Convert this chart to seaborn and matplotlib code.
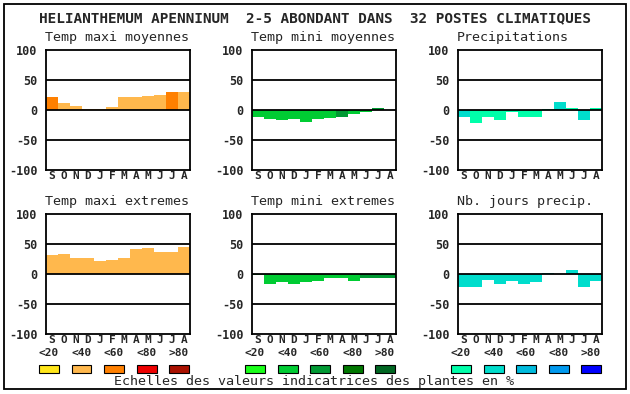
import matplotlib
matplotlib.use('Agg')
import matplotlib.pyplot as plt
from matplotlib.patches import Rectangle
import seaborn as sns

months = ['S', 'O', 'N', 'D', 'J', 'F', 'M', 'A', 'M', 'J', 'J', 'A']
pos = list(range(12))

titles = ['Temp maxi moyennes', 'Temp mini moyennes', 'Precipitations',
          'Temp maxi extremes', 'Temp mini extremes', 'Nb. jours precip.']

tmax_moy = [22, 12, 7, 2, 2, 5, 22, 22, 24, 25, 30, 30]
tmin_moy = [-12, -15, -17, -15, -20, -15, -14, -12, -7, -4, 4, 0]
precip = [-11, -22, -11, -17, -3, -11, -11, 2, 14, 4, -17, 4]
tmax_ext = [32, 34, 26, 26, 22, 24, 27, 42, 44, 36, 37, 45]
tmin_ext = [-2, -16, -14, -16, -14, -12, -6, -7, -12, -6, -7, -7]
nb_jours = [-21, -21, -10, -16, -12, -17, -14, 2, 0, 6, -21, -12]

# classe de couleur par mois (0:<20 1:<40 2:<60 3:<80 4:>80)
cls_tmax_moy = [2, 1, 1, 1, 1, 1, 1, 1, 1, 1, 2, 1]
cls_tmin_moy = [1, 1, 1, 1, 1, 1, 1, 2, 1, 1, 2, 1]
cls_precip = [1, 0, 0, 0, 0, 0, 0, 0, 1, 0, 1, 0]
cls_tmax_ext = [1] * 12
cls_tmin_ext = [1, 1, 1, 1, 1, 1, 1, 1, 1, 2, 2, 2]
cls_nb_jours = [1] * 12

scale_labels = ['<20', '<40', '<60', '<80', '>80']
orange = ['#FFE61A', '#FFB84D', '#FF8000', '#EE0000', '#AA1100']
green = ['#1AFF1A', '#00CC33', '#009933', '#007700', '#006622']
blue = ['#00FFAA', '#00DDCC', '#00BBDD', '#0099EE', '#0000FF']

series = [(tmax_moy, cls_tmax_moy, orange), (tmin_moy, cls_tmin_moy, green),
          (precip, cls_precip, blue), (tmax_ext, cls_tmax_ext, orange),
          (tmin_ext, cls_tmin_ext, green), (nb_jours, cls_nb_jours, blue)]

sns.set_style('white')
mono = 'DejaVu Sans Mono'
W, H = 630, 394

fig = plt.figure(figsize=(6.3, 3.94), dpi=100)


def fx(x):
    return x / W


def fy(y):
    return 1 - y / H


lefts = [46, 252, 458]
tops = [50, 214]
aw, ah = 144, 120

for i, (vals, cls, pal) in enumerate(series):
    r, c = divmod(i, 3)
    ax = fig.add_axes([fx(lefts[c]), fy(tops[r] + ah), aw / W, ah / H])
    cols = [pal[k] for k in cls]
    sns.barplot(x=pos, y=vals, hue=pos, palette=cols, width=1, saturation=1,
                legend=False, linewidth=0, ax=ax)
    for yv in (50, 0, -50):
        ax.axhline(yv, color='black', lw=1.3, zorder=5)
    ax.set_xlim(-0.5, 11.5)
    ax.set_ylim(-100, 100)
    ax.set_yticks([100, 50, 0, -50, -100])
    ax.set_yticklabels(['100', '50', '0', '-50', '-100'], fontfamily=mono,
                       fontweight='bold', fontsize=8.5)
    ax.set_xticks(pos)
    ax.set_xticklabels(months, fontfamily=mono, fontweight='bold', fontsize=8)
    ax.tick_params(length=0)
    ax.tick_params(axis='y', pad=6)
    ax.tick_params(axis='x', pad=1)
    ax.set_xlabel('')
    ax.set_ylabel('')
    for sp in ax.spines.values():
        sp.set_color('black')
        sp.set_linewidth(1.3)
        sp.set_visible(True)
    fig.text(fx(lefts[c] - 1), fy(tops[r] - 12), titles[i], fontfamily=mono,
             fontsize=9.6, va='center', ha='left')

fig.text(0.5, fy(18), 'HELIANTHEMUM APENNINUM  2-5 ABONDANT DANS  32 POSTES CLIMATIQUES',
         fontfamily=mono, fontweight='bold', fontsize=10.4, ha='center', va='center')

# echelles de couleurs
box_x0 = [39, 245, 451]
for g, pal in enumerate([orange, green, blue]):
    for k in range(5):
        x = box_x0[g] + k * 32.5
        fig.add_artist(Rectangle((fx(x), fy(373)), 20 / W, 8 / H, transform=fig.transFigure,
                                 facecolor=pal[k], edgecolor='black', lw=0.8))
        fig.text(fx(x + 10), fy(353), scale_labels[k], fontfamily=mono,
                 fontweight='bold', fontsize=8, ha='center', va='center')

fig.text(fx(314), fy(381), 'Echelles des valeurs indicatrices des plantes en %',
         fontfamily=mono, fontsize=9.6, ha='center', va='center')

fig.add_artist(Rectangle((fx(4), fy(389)), 622 / W, 385 / H, transform=fig.transFigure,
                         facecolor='none', edgecolor='black', lw=1.3))

fig.savefig('out.png', dpi=100)
